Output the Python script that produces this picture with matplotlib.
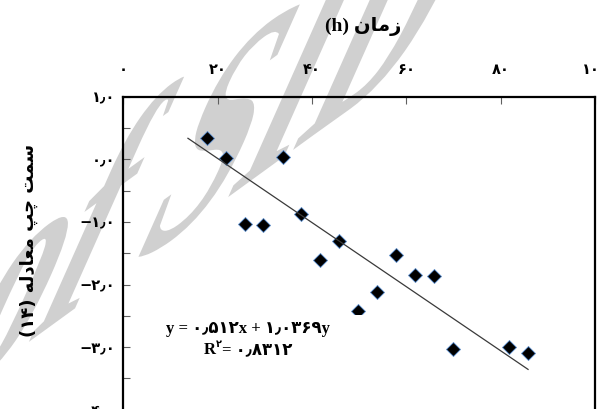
import numpy as np
import matplotlib
matplotlib.use("Agg")
import matplotlib.pyplot as plt
from matplotlib.font_manager import FontProperties
from matplotlib.textpath import TextPath
from matplotlib.patches import PathPatch, Rectangle
from matplotlib.transforms import Affine2D

# داده‌ها (خوانده شده از تصویر)
time_h = [17.7, 21.8, 25.8, 29.7, 33.9, 37.7, 41.6, 45.7, 49.7, 53.8, 57.8, 61.8, 65.8, 69.9, 81.8, 85.8]
lhs = [0.335, 0.026, -1.04, -1.05, 0.032, -0.88, -1.61, -1.31, -2.43, -2.12, -1.53, -1.85, -1.86, -3.03, -3.00, -3.09]
slope = -0.0512
intercept = 1.0369
trend_x = [13.7, 85.8]
x_ticks = [0, 20, 40, 60, 80, 100]
y_ticks = [1, 0, -1, -2, -3, -4, -5]
y_minor = [0.5, -0.5, -1.5, -2.5, -3.5, -4.5]

fa_digits = str.maketrans("0123456789.-", "۰۱۲۳۴۵۶۷۸۹٫−")


def fa(v, fmt):
    return format(v, fmt).translate(fa_digits)


# متن فارسی به صورت شکل‌های نمایشی و ترتیب دیداری
title_txt = "(h) " + "\ufee5\ufe8e\ufee3\ufeaf"
ylabel_txt = ("(۱۴) " + "\ufeea\ufedf\ufea9\ufe8e\ufecc\ufee3" + " "
              + "\ufb57\ufb7c" + " " + "\ufe96\ufee4\ufeb3")
eq_line = "y = ۰٫۵۱۲x + ۱٫۰۳۶۹y"
r2_val = "= ۰٫۸۳۱۲"
watermark = "Archive of SID"

fig = plt.figure(figsize=(6.01, 4.09), dpi=100)
fig.patch.set_facecolor("white")

# واترمارک (متن کج و کشیده)
fp_wm = FontProperties(family="Liberation Serif", weight="bold")
wm_path = TextPath((0, 0), watermark, size=1, prop=fp_wm)
ext_pre = TextPath((0, 0), "Archive of S", size=1, prop=fp_wm).get_extents()
ext_s = TextPath((0, 0), "S", size=1, prop=fp_wm).get_extents()
sx = ext_pre.x1 - ext_s.width / 2
sy = ext_s.y0 + ext_s.height / 2
b = 215 * np.array([np.cos(np.radians(36)), np.sin(np.radians(36))])
v = 355 * np.array([np.cos(np.radians(66)), np.sin(np.radians(66))])
mat = np.array([[b[0], v[0], 0.0], [b[1], v[1], 0.0], [0.0, 0.0, 1.0]])
off = np.array([222, 409 - 130]) - mat[:2, :2] @ np.array([sx, sy])
mat[0, 2], mat[1, 2] = off
fig.add_artist(PathPatch(wm_path, transform=Affine2D(mat), facecolor="#d0d0d0",
                         edgecolor="none", zorder=-1))

ax = fig.add_axes([0.2052, -0.1548, 0.7849, 0.9184])
ax.set_facecolor("none")
ax.set_xlim(0, 100)
ax.set_ylim(-5, 1)

ax.plot(time_h, lhs, "D", ms=7.5, color="black", mec="#5b8fd0", mew=0.6, zorder=3)
tx = np.array(trend_x)
ax.plot(tx, slope * tx + intercept, color="#3a3a3a", lw=0.9, zorder=4)

ax.xaxis.tick_top()
ax.set_xticks(x_ticks)
ax.set_xticklabels([fa(t, "d") for t in x_ticks])
ax.set_yticks(y_ticks)
ax.set_yticklabels([fa(t, ".1f") for t in y_ticks])
ax.set_yticks(y_minor, minor=True)
ax.tick_params(axis="both", which="both", direction="in", color="#606060", width=0.8, length=5)
ax.tick_params(axis="x", pad=14, labelsize=10.5)
ax.tick_params(axis="y", pad=6, labelsize=10.5)
for lab in ax.get_xticklabels() + ax.get_yticklabels():
    lab.set_fontweight("bold")
    lab.set_family("DejaVu Sans")
for s in ax.spines.values():
    s.set_linewidth(1.6)

# معادله خط برازش
ax.add_patch(Rectangle((0.078, 0.299), 0.445, 0.12, transform=ax.transAxes,
                       facecolor="white", edgecolor="none", zorder=4.5))
eq_font = dict(family=["Liberation Serif", "DejaVu Sans"], fontweight="bold", fontsize=12)
ax.text(0.264, 0.3815, eq_line, transform=ax.transAxes, ha="center", va="center",
        zorder=5, **eq_font)
rt = ax.text(0.171, 0.326, "R", transform=ax.transAxes, ha="left", va="center",
             zorder=5, **eq_font)
sup = ax.annotate("۲", xy=(1, 0.55), xycoords=rt, ha="left", va="bottom", zorder=5,
                  family="DejaVu Sans", fontweight="bold", fontsize=7)
ax.annotate(r2_val, xy=(1, 0.5), xycoords=(sup, rt), ha="left", va="center",
            zorder=5, **eq_font)

ax.xaxis.set_label_position("top")
ax.set_xlabel(title_txt, family=["Liberation Serif", "DejaVu Sans"], fontweight="bold", fontsize=14)
ax.xaxis.label.set_va("center")
ax.xaxis.set_label_coords(0.508, 1.188)
ax.set_ylabel(ylabel_txt, family=["DejaVu Sans"], fontweight="bold", fontsize=13)
ax.yaxis.label.set_va("center")
ax.yaxis.set_label_coords(-0.2, 0.616)

fig.savefig("out.png", dpi=100, facecolor="white")
